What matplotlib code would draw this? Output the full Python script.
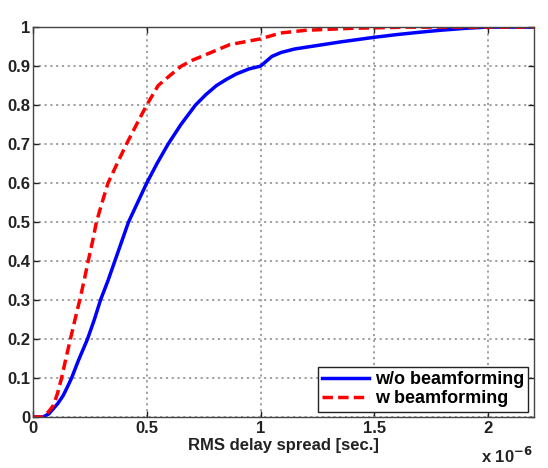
import matplotlib
matplotlib.use('Agg')
import matplotlib.pyplot as plt

# delay spread in microseconds, CDF values
x_wo = [0, 0.045, 0.07, 0.088, 0.11, 0.133, 0.15, 0.17, 0.2, 0.24, 0.27, 0.297,
        0.33, 0.36, 0.39, 0.42, 0.46, 0.5, 0.545, 0.594, 0.65, 0.714, 0.76, 0.806,
        0.85, 0.894, 0.95, 1.0, 1.05, 1.09, 1.15, 1.25, 1.35, 1.5, 1.6, 1.7,
        1.79, 1.9, 1.99, 2.2]
cdf_wo = [0, 0, 0.008, 0.02, 0.035, 0.055, 0.075, 0.1, 0.145, 0.2, 0.25, 0.3,
          0.35, 0.4, 0.45, 0.5, 0.55, 0.6, 0.65, 0.7, 0.75, 0.8, 0.827, 0.85,
          0.866, 0.88, 0.893, 0.9, 0.925, 0.935, 0.944, 0.953, 0.962, 0.974, 0.981,
          0.987, 0.992, 0.997, 1.0, 1.0]

x_w = [0, 0.04, 0.06, 0.075, 0.09, 0.108, 0.126, 0.145, 0.165, 0.185, 0.206,
       0.225, 0.243, 0.262, 0.279, 0.307, 0.33, 0.37, 0.411, 0.455, 0.5, 0.55,
       0.6, 0.652, 0.7, 0.762, 0.864, 1.0, 1.088, 1.2, 1.4, 1.64, 2.2]
cdf_w = [0, 0, 0.008, 0.018, 0.03, 0.06, 0.1, 0.15, 0.2, 0.25, 0.3,
         0.35, 0.4, 0.45, 0.5, 0.556, 0.6, 0.65, 0.7, 0.75, 0.8, 0.85,
         0.875, 0.9, 0.915, 0.93, 0.955, 0.97, 0.985, 0.992, 0.997, 1.0, 1.0]

plt.rcParams['font.family'] = ['Liberation Sans', 'DejaVu Sans']
plt.rcParams['font.weight'] = 'bold'

fig = plt.figure(figsize=(5.48, 4.68), dpi=100)
ax = fig.add_axes([0.060, 0.109, 0.914, 0.833])

ax.plot(x_wo, cdf_wo, color='#0000ff', lw=2.5, label='w/o beamforming')
ax.plot(x_w, cdf_w, color='#ff0000', lw=2.5, ls=(0, (3, 1.5)), label='w beamforming')

ax.set_xlim(0, 2.2)
ax.set_ylim(0, 1)
ax.set_xticks([0, 0.5, 1, 1.5, 2])
ax.set_xticklabels(['0', '0.5', '1', '1.5', '2'])
ax.set_yticks([i / 10 for i in range(11)])
ax.set_yticklabels(['0', '0.1', '0.2', '0.3', '0.4', '0.5', '0.6', '0.7', '0.8', '0.9', '1'])
ax.tick_params(labelsize=12, colors='#222222', direction='in', length=4, width=1, pad=3)
ax.tick_params(axis='y', pad=2)
ax.tick_params(top=True, right=True)
ax.grid(True, color='#999999', ls=(0, (1.2, 2)), lw=1.3)
for s in ax.spines.values():
    s.set_color('#444444')
    s.set_linewidth(1)

ax.set_xlabel('RMS delay spread [sec.]', fontsize=12, fontweight='bold', color='#222222', labelpad=1)
fig.text(0.878, 0.01, r'x 10$^{-6}$', fontsize=12, fontweight='bold', color='#222222')

leg = ax.legend(loc='lower right', fontsize=13, fancybox=False, framealpha=1,
                edgecolor='#222222', handlelength=2.6, handletextpad=0.3,
                borderpad=0.25, labelspacing=0.1, borderaxespad=0.3)
leg.get_frame().set_linewidth(1)

fig.savefig('out.png', dpi=100)
